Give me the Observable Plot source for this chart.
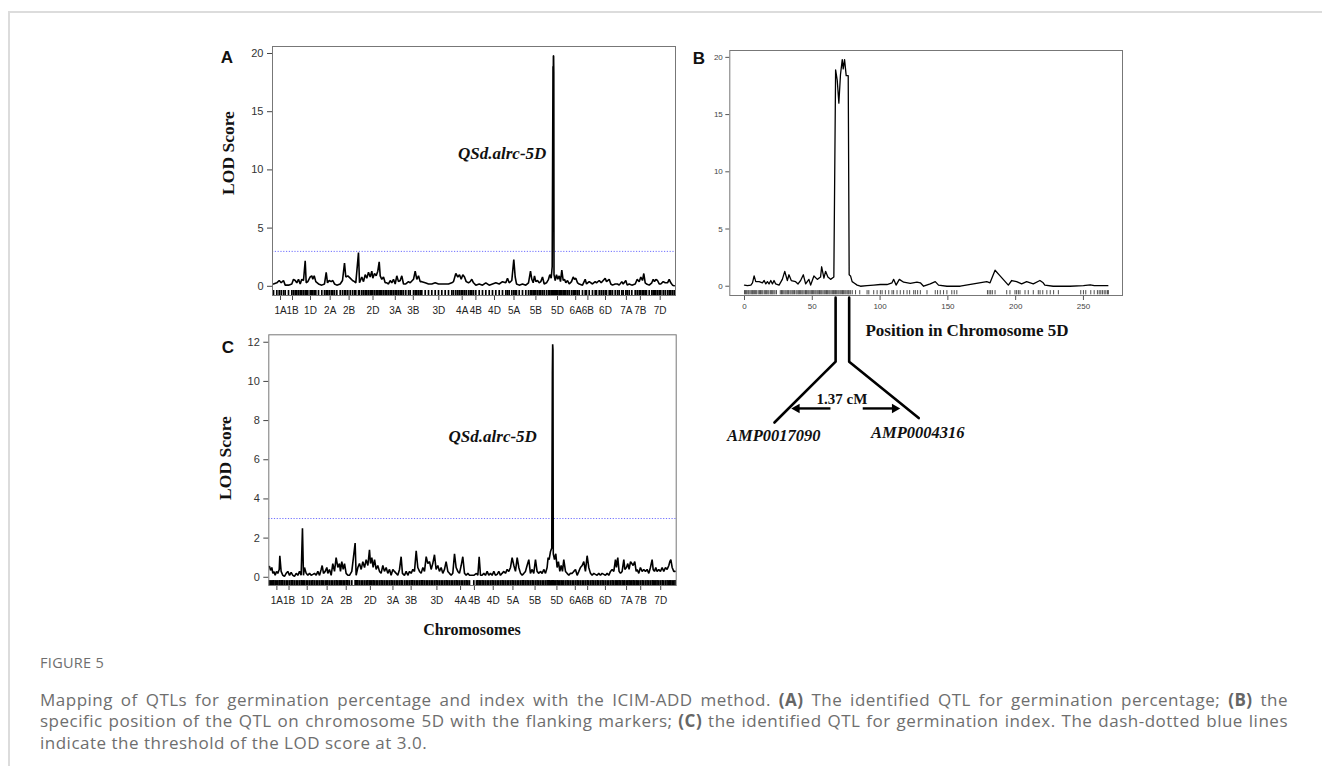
<!DOCTYPE html>
<html><head><meta charset="utf-8">
<script src="https://cdn.jsdelivr.net/npm/d3@7"></script>
<script src="https://cdn.jsdelivr.net/npm/@observablehq/plot@0.6"></script>
<style>
body{margin:0;background:#fff;}
#page{position:relative;width:1322px;height:766px;overflow:hidden;background:#fff;font-family:"Liberation Sans",Arial,sans-serif;}
#frameline{position:absolute;left:8px;top:11px;right:-4px;bottom:-4px;border-top:2px solid #dcdcdc;border-left:2px solid #dcdcdc;}
.lab{position:absolute;white-space:nowrap;transform:translate(-50%,-50%);line-height:1;}
.serif{font-family:"Liberation Serif","Times New Roman",serif;font-weight:bold;color:#111;}
.letter{font-family:"Liberation Sans",Arial,sans-serif;font-weight:bold;font-size:17px;color:#111;}
#caption{position:absolute;left:40px;top:653px;width:1248px;font-family:"Open Sans","Noto Sans",sans-serif;color:#6e6e6e;}
#caption .fig{font-size:14.5px;line-height:20px;letter-spacing:0.3px;}
#caption .ln{font-size:17px;line-height:21.3px;letter-spacing:0.5px;white-space:nowrap;}
#caption .j{white-space:normal;text-align:justify;text-align-last:justify;}
#caption b{font-weight:bold;color:#666;}
svg.plt{position:absolute;}
</style></head>
<body><div id="page"><div id="frameline"></div></div>
<script>
// ---------------- data ----------------
const chromNames = ["1A","1B","1D","2A","2B","2D","3A","3B","3D","4A","4B","4D","5A","5B","5D","6A","6B","6D","7A","7B","7D"];
const chromPos = [80,200,380,577,766,1005,1228,1408,1663,1897,2034,2220,2415,2634,2850,3032,3154,3330,3539,3679,3877];
const genomeLength = 4030;
const threshold = 3.0;
const qtlName = "QSd.alrc-5D";

// Panel A: germination percentage LOD profile [genome position, LOD]
const profileA = [[10,0.2],[43,0.3],[67,0.5],[87,0.3],[110,0.5],[127,0.1],[160,0.1],[193,0.2],[210,0.6],[227,0.5],[243,0.3],[260,0.6],[277,0.2],[293,0.6],[310,0.5],[327,2.2],[337,0.3],[353,0.4],[377,0.8],[393,0.9],[403,0.6],[417,0.9],[433,0.4],[460,0.2],[493,0.1],[520,0.2],[537,1.2],[550,0.3],[567,0.5],[587,0.4],[603,0.5],[620,0.2],[643,0.1],[677,0.2],[700,0.5],[720,2.0],[733,0.8],[753,0.9],[777,0.7],[800,0.5],[820,0.4],[833,0.3],[860,2.9],[870,0.3],[893,0.8],[910,0.4],[927,1.0],[943,0.7],[960,1.2],[977,0.8],[993,1.3],[1003,0.7],[1020,1.1],[1037,0.9],[1053,1.3],[1067,2.1],[1077,0.9],[1093,0.6],[1110,0.8],[1127,0.3],[1143,0.3],[1160,0.2],[1177,0.5],[1193,0.3],[1210,0.6],[1227,0.2],[1243,0.9],[1260,0.4],[1277,0.5],[1293,0.9],[1310,0.2],[1333,0.2],[1360,0.4],[1377,0.3],[1410,0.6],[1427,1.3],[1443,0.6],[1460,0.9],[1477,0.4],[1493,0.4],[1527,0.3],[1560,0.2],[1593,0.2],[1627,0.3],[1660,0.2],[1693,0.2],[1727,0.2],[1760,0.2],[1793,0.3],[1810,0.4],[1833,1.1],[1853,0.8],[1870,1.0],[1887,0.6],[1903,1.0],[1920,0.8],[1937,0.4],[1960,0.3],[1977,0.4],[1993,0.6],[2010,0.3],[2033,0.1],[2067,0.2],[2100,0.1],[2133,0.3],[2167,0.1],[2200,0.2],[2233,0.3],[2267,0.2],[2300,0.4],[2333,0.3],[2350,0.7],[2367,0.3],[2393,0.5],[2413,2.3],[2427,0.8],[2440,0.2],[2467,0.1],[2500,0.2],[2533,0.1],[2560,0.3],[2580,1.3],[2593,0.6],[2607,0.3],[2620,0.9],[2633,0.4],[2650,0.5],[2667,0.3],[2683,0.4],[2700,0.8],[2717,0.2],[2740,0.3],[2760,0.6],[2773,1.0],[2787,0.7],[2797,1.7],[2805,18.9],[2807,16.0],[2809,19.8],[2811,19.8],[2813,18.4],[2815,1.0],[2827,0.5],[2840,1.0],[2853,0.6],[2867,0.9],[2880,0.4],[2893,1.4],[2907,0.5],[2920,0.6],[2933,0.3],[2950,0.5],[2967,0.2],[2990,0.4],[3007,0.8],[3020,0.6],[3033,0.7],[3050,0.3],[3067,0.2],[3100,0.1],[3127,0.6],[3140,0.2],[3167,0.4],[3200,0.2],[3227,0.4],[3240,0.3],[3267,0.5],[3287,0.3],[3307,0.5],[3327,0.7],[3340,0.4],[3367,0.6],[3383,0.2],[3400,0.1],[3427,0.2],[3450,0.2],[3467,0.1],[3493,0.4],[3507,0.2],[3533,0.5],[3547,0.1],[3567,0.2],[3593,0.1],[3627,0.2],[3647,0.6],[3667,0.4],[3683,0.8],[3700,0.5],[3713,1.1],[3727,0.3],[3740,0.2],[3767,0.1],[3793,0.3],[3807,0.6],[3820,0.4],[3833,0.6],[3850,0.5],[3867,0.2],[3883,0.2],[3907,0.4],[3927,0.3],[3950,0.3],[3967,0.6],[3983,0.3],[4000,0.1],[4017,0.05]];

// Panel C: germination index LOD profile [genome position, LOD]
const profileC = [[7,0.55],[17,0.35],[30,0.5],[40,0.2],[50,0.3],[63,0.1],[76,0.3],[89,0.2],[103,0.4],[109,1.1],[122,0.3],[139,0.1],[155,0.05],[172,0.2],[188,0.3],[205,0.1],[221,0.25],[238,0.1],[254,0.05],[271,0.2],[287,0.1],[304,0.3],[320,0.1],[333,2.5],[343,0.1],[353,0.5],[370,0.2],[386,0.1],[403,0.2],[419,0.1],[436,0.15],[452,0.2],[469,0.1],[485,0.3],[502,0.1],[518,0.4],[528,0.6],[541,0.2],[558,0.3],[574,0.5],[584,0.2],[600,0.4],[617,0.1],[633,0.7],[650,0.3],[666,1.0],[683,0.5],[699,0.7],[709,0.3],[722,0.8],[736,0.4],[749,0.7],[765,0.2],[782,0.1],[798,0.1],[821,0.3],[854,1.75],[864,0.1],[881,0.5],[897,0.7],[914,0.4],[930,0.8],[947,0.5],[963,0.9],[980,0.6],[996,1.4],[1006,0.7],[1019,1.0],[1032,0.5],[1046,0.9],[1062,0.4],[1078,0.6],[1095,0.3],[1111,0.2],[1128,0.6],[1144,0.3],[1161,0.5],[1177,0.2],[1194,0.4],[1210,0.1],[1227,0.4],[1243,0.3],[1260,0.2],[1276,0.1],[1293,0.4],[1309,1.05],[1322,0.2],[1342,0.1],[1359,0.3],[1375,0.1],[1392,0.3],[1408,0.2],[1425,0.4],[1441,0.3],[1458,1.35],[1474,0.5],[1491,0.3],[1507,0.2],[1524,0.5],[1540,0.3],[1557,1.05],[1573,0.7],[1590,0.8],[1606,0.4],[1622,0.7],[1639,1.15],[1655,0.4],[1672,0.6],[1688,0.3],[1705,0.5],[1721,0.2],[1738,0.4],[1754,0.8],[1771,0.3],[1787,0.2],[1804,0.1],[1820,0.2],[1837,1.2],[1853,0.5],[1870,0.3],[1886,0.2],[1903,0.6],[1919,1.05],[1936,0.2],[1952,0.1],[1969,0.2],[1985,0.1],[2028,0.1],[2054,0.2],[2068,0.1],[2081,1.05],[2094,0.1],[2110,0.1],[2127,0.2],[2143,0.1],[2160,0.3],[2176,0.1],[2193,0.2],[2209,0.1],[2226,0.3],[2242,0.1],[2259,0.15],[2275,0.3],[2292,0.1],[2308,0.2],[2325,0.3],[2341,0.2],[2358,0.4],[2374,0.3],[2391,0.5],[2407,1.0],[2424,0.6],[2440,0.3],[2457,1.0],[2473,0.5],[2490,0.2],[2506,0.1],[2523,0.2],[2539,0.3],[2555,0.6],[2572,0.9],[2588,0.2],[2605,0.4],[2621,0.2],[2638,0.9],[2654,0.3],[2671,0.2],[2687,0.3],[2704,0.2],[2720,0.4],[2737,0.2],[2753,0.5],[2763,1.0],[2773,0.9],[2786,1.3],[2799,1.5],[2805,10.4],[2808,11.9],[2811,11.6],[2814,1.2],[2826,0.9],[2839,1.2],[2852,0.5],[2865,0.8],[2879,0.3],[2892,0.6],[2905,0.3],[2918,0.9],[2935,0.3],[2951,0.2],[2968,0.1],[2984,0.2],[3001,0.2],[3017,0.3],[3034,0.4],[3050,0.1],[3067,0.3],[3083,0.5],[3100,0.6],[3116,0.8],[3132,0.3],[3149,1.1],[3165,0.5],[3182,0.2],[3198,0.1],[3215,0.2],[3231,0.15],[3248,0.1],[3264,0.2],[3281,0.1],[3297,0.2],[3314,0.15],[3330,0.1],[3347,0.2],[3363,0.1],[3380,0.3],[3396,0.4],[3413,0.3],[3429,0.9],[3439,0.5],[3452,1.0],[3465,0.3],[3479,0.2],[3495,0.3],[3512,0.9],[3522,0.4],[3538,0.5],[3551,0.7],[3564,0.4],[3578,0.8],[3591,0.7],[3604,0.6],[3620,0.8],[3634,0.3],[3644,0.4],[3660,0.2],[3676,0.5],[3693,0.3],[3709,0.4],[3726,0.3],[3742,0.4],[3759,0.2],[3775,0.5],[3792,0.9],[3802,0.4],[3815,0.3],[3828,0.5],[3841,0.3],[3858,0.4],[3874,0.3],[3891,0.5],[3907,0.3],[3924,0.5],[3940,0.4],[3957,0.6],[3967,0.8],[3977,0.9],[3990,0.5],[4006,0.3],[4019,0.3]];

// Panel B: chromosome 5D profile (cM, LOD)
const posB = [0,2.2,4.7,5.9,7.1,8.3,10.8,13.2,14.5,15.7,16.9,18.1,19.4,20.6,21.8,23,25.5,27.9,29.7,31.6,32.8,34.5,37.7,39.5,41.4,43.4,45.1,47.5,48.8,51.2,53.7,56.1,56.9,58.6,59.8,61.5,63.5,65.9,67.2,68.4,69.6,70.8,72.1,72.8,73.8,75,76.5,77.2,78.2,79.4,80.6,83.1,85.5,90.4,95.3,100.2,105.1,108.8,110,111.8,114.2,117.4,122.3,127.2,129.7,132.1,137,140.7,143.1,149.3,159.1,178.7,181.1,184.8,188.5,194.6,197.1,200.7,204.4,208.1,213,217.9,220.3,221.5,227.7,240,250,255,258,268];
const lodB = [0.1,0.05,0.1,0.3,0.9,0.4,0.4,0.3,0.5,0.2,0.4,0.2,0.5,0.2,0.5,0.2,0.1,0.6,1.3,0.5,1.0,0.5,0.4,0.2,0.5,1.0,0.2,0.6,0.1,0.9,0.6,0.8,1.7,0.7,1.3,0.8,0.6,0.8,18.9,18,16,18.5,19.8,19,19.8,18.4,18.4,1.0,0.9,0.4,0.3,0.1,0.0,0.05,0.1,0.15,0.15,0.3,0.6,0.1,0.6,0.35,0.25,0.35,0.3,0.0,0.2,0.4,0.1,0.0,0.0,0.4,0.3,1.4,0.9,0.1,0.5,0.4,0.2,0.4,0.2,0.5,0.3,0.1,0.0,0.0,0.05,0.12,0.05,0.05];
const markersB = [0,0.8,1.6,2.5,3.2,4.1,5,5.8,6.5,7.3,8.2,9,10.1,11,11.8,12.7,13.5,14.6,15.4,16.3,17.2,18,19.1,20,20.8,21.7,22.5,23.6,26.4,27.3,28.1,29,29.9,30.7,31.6,32.4,33.5,34.3,35.2,36,36.9,38,38.8,39.7,40.5,41.4,42.3,43.1,44,45,45.8,46.7,47.5,48.4,49.3,50.1,51,51.9,52.7,53.6,54.4,55.3,56.2,57,57.9,58.8,59.6,60.5,61.3,62.2,63,63.9,64.8,65.6,66.5,67.2,68,68.9,69.7,70.6,71.4,72.3,73.1,74,74.8,75.7,76.5,77.2,78.3,79.5,81.9,85,90.4,91.7,95.3,97.8,100.2,101.5,103.9,106.4,108.8,110,112.5,114.9,117.4,119.9,121.8,124.8,126,127.7,129.7,134.6,140.7,142.4,144.4,146.8,149.3,152.9,154.7,156.6,179.2,180.4,181.6,182.8,184.8,193.4,195.8,199.5,200.7,202,203.2,206.9,209.3,213,216.7,218,220,223,225.5,228,231.5,248,250,251.7,255.4,257.9,260.3,261.6,262.8,264,265.3,266.5,267.7,268.4];
const flankingMarkers = [{name:"AMP0017090", pos:67.2},{name:"AMP0004316", pos:77.2}];
const intervalLabel = "1.37 cM";

const lodTicksA = [0,5,10,15,20];
const lodTicksB = [0,5,10,15,20];
const lodTicksC = [0,2,4,6,8,10,12];
const posTicksB = [0,50,100,150,200,250];

// ---------------- drawing ----------------
const page = document.getElementById("page");
const nameOf = new Map(chromPos.map((p,i)=>[p, chromNames[i]]));
const baseStyle = {background:"transparent", overflow:"visible", fontFamily:"Liberation Sans, Arial, sans-serif", color:"#222"};
const serif = "Liberation Serif, Times New Roman, serif";

function place(svg, left, top){
  svg.classList.add("plt");
  svg.style.left = left + "px"; svg.style.top = top + "px";
  page.appendChild(svg);
}

function genomePlot(profile, opts){
  return Plot.plot({
    width: opts.width, height: opts.height,
    marginLeft: opts.ml, marginRight: opts.mr, marginTop: opts.mt, marginBottom: opts.mb,
    style: baseStyle,
    x: {domain: [0, genomeLength]},
    y: {domain: opts.ydomain},
    marks: [
      Plot.ruleY([threshold], {stroke:"#6f6fff", strokeDasharray:"1.2,1.6", strokeWidth:1}),
      Plot.ruleX(profile, {x: d=>d[0], y1: opts.ydomain[0], y2: opts.rugTop, stroke:"#000", strokeWidth:1.7}),
      Plot.line(profile, {x: d=>d[0], y: d=>d[1], stroke:"#000", strokeWidth:1.6, strokeLinejoin:"miter"}),
      Plot.text([qtlName], {x: opts.labelAt[0], y: opts.labelAt[1], fontFamily: serif, fontWeight:"bold", fontStyle:"italic", fontSize:17, fill:"#111"}),
      Plot.axisY({ticks: opts.yticks, tickSize:5, tickPadding:4, fontSize:11, label:null, stroke:"#444", fill:"#333"}),
      Plot.axisX({ticks: chromPos, tickFormat: d=>nameOf.get(d), tickSize:5, tickPadding:6, fontSize:10, label:null, stroke:"#444", fill:"#222"}),
      Plot.frame({stroke:"#777"})
    ]
  });
}

place(genomePlot(profileA, {width:490, height:290, ml:72, mr:15, mt:6, mb:35, ydomain:[-0.79,20.6], rugTop:-0.36, labelAt:[2297,11.39], yticks:lodTicksA}), 200, 40);
place(genomePlot(profileC, {width:490, height:300, ml:72.3, mr:10.3, mt:9.3, mb:40, ydomain:[-0.42,12.38], rugTop:-0.17, labelAt:[2215,7.19], yticks:lodTicksC}), 196, 325);

// Panel B
const profileB = posB.map((p,i)=>[p, lodB[i]]);
const [mL, mR] = flankingMarkers;
const calloutY = -10.68;
const plotB = Plot.plot({
  width:450, height:420, marginLeft:39.3, marginRight:18, marginTop:10, marginBottom:165,
  style: baseStyle,
  x: {domain:[-10.84, 278.8]},
  y: {domain:[-0.81, 20.6]},
  marks: [
    Plot.ruleX(markersB, {x: d=>d, y1:-0.75, y2:-0.38, stroke:"#222", strokeWidth:0.8}),
    Plot.line(profileB, {x: d=>d[0], y: d=>d[1], stroke:"#000", strokeWidth:1.3}),
    Plot.axisY({ticks: lodTicksB, tickSize:4, tickPadding:3, fontSize:8, label:null, stroke:"#555", fill:"#444"}),
    Plot.axisX({ticks: posTicksB, tickSize:5, tickPadding:3, fontSize:8, label:null, stroke:"#555", fill:"#444"}),
    Plot.frame({stroke:"#777"}),
    // flanking-marker call-out
    Plot.line([[mL.pos,-1.0],[mL.pos,-6.59],[mL.pos-45.1,-11.91]], {x:d=>d[0], y:d=>d[1], stroke:"#000", strokeWidth:2.6, clip:false}),
    Plot.line([[mR.pos,-1.0],[mR.pos,-6.59],[mR.pos+51.3,-11.52]], {x:d=>d[0], y:d=>d[1], stroke:"#000", strokeWidth:2.6, clip:false}),
    Plot.link([0], {x1: mL.pos-3.8, x2: mL.pos-27, y1: calloutY, y2: calloutY, stroke:"#000", strokeWidth:2.4}),
    Plot.link([0], {x1: mR.pos+10, x2: mR.pos+32, y1: calloutY, y2: calloutY, stroke:"#000", strokeWidth:2.4}),
    Plot.dot([0], {x: mL.pos-28.6, y: calloutY, symbol:"triangle2", rotate:-90, r:4.6, fill:"#000", stroke:"none"}),
    Plot.dot([0], {x: mR.pos+33.6, y: calloutY, symbol:"triangle2", rotate:90, r:4.6, fill:"#000", stroke:"none"}),
    Plot.text([intervalLabel], {x: (mL.pos+mR.pos)/2-0.3, y:-9.83, fontFamily: serif, fontWeight:"bold", fontSize:15, fill:"#111"}),
    Plot.text([mL.name], {x: mL.pos-45.6, y:-13.07, fontFamily: serif, fontWeight:"bold", fontStyle:"italic", fontSize:16.5, fill:"#111"}),
    Plot.text([mR.name], {x: mR.pos+50.6, y:-12.84, fontFamily: serif, fontWeight:"bold", fontStyle:"italic", fontSize:16.5, fill:"#111"})
  ]
});
place(plotB, 690, 40);

// ---------------- titles / labels ----------------
function label(text, cx, cy, cls, extra){
  const d = document.createElement("div");
  d.className = "lab " + cls;
  d.textContent = text;
  d.style.left = cx + "px"; d.style.top = cy + "px";
  if (extra) Object.assign(d.style, extra);
  page.appendChild(d);
  return d;
}
label("A", 227, 57, "letter");
label("B", 699, 58, "letter");
label("C", 228, 347, "letter");
label("LOD Score", 229, 153, "serif", {fontSize:"17.5px", transform:"translate(-50%,-50%) rotate(-90deg)"});
label("LOD Score", 226, 458, "serif", {fontSize:"17.5px", transform:"translate(-50%,-50%) rotate(-90deg)"});
label("Chromosomes", 472, 630, "serif", {fontSize:"16px"});
label("Position in Chromosome 5D", 967, 330, "serif", {fontSize:"17px"});

const cap = document.createElement("div");
cap.id = "caption";
cap.innerHTML =
  '<div class="fig">FIGURE 5</div>' +
  '<div style="height:16px"></div>' +
  '<div class="ln j">Mapping of QTLs for germination percentage and index with the ICIM-ADD method. <b>(A)</b> The identified QTL for germination percentage; <b>(B)</b> the</div>' +
  '<div class="ln j">specific position of the QTL on chromosome 5D with the flanking markers; <b>(C)</b> the identified QTL for germination index. The dash-dotted blue lines</div>' +
  '<div class="ln">indicate the threshold of the LOD score at 3.0.</div>';
page.appendChild(cap);
</script>
</body></html>
